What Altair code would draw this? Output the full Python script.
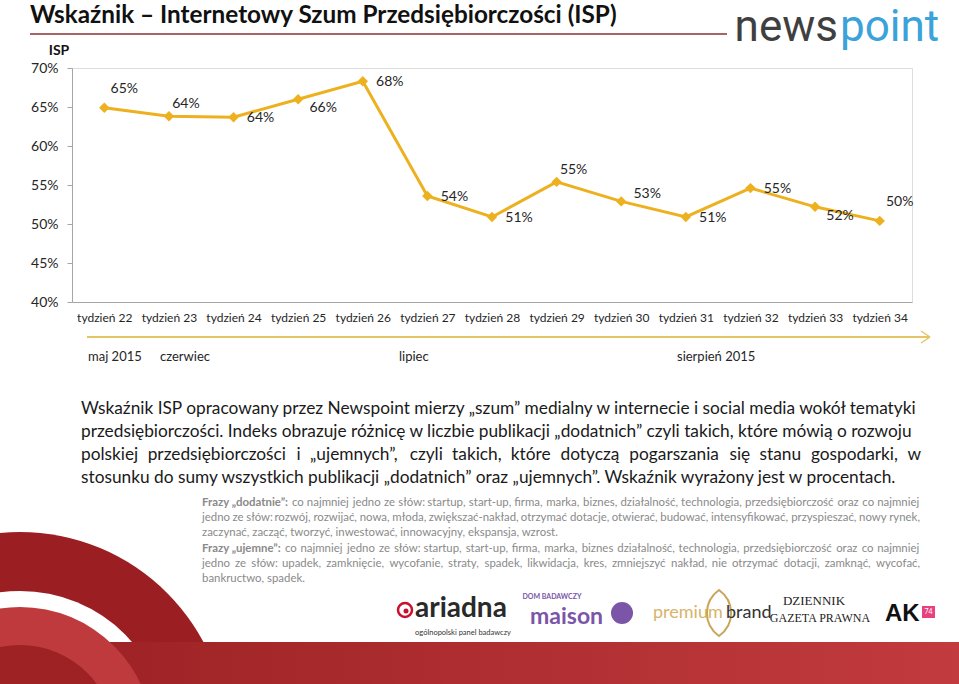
import altair as alt
import pandas as pd

# ---------------- data ----------------
weeks = ["tydzień 22", "tydzień 23", "tydzień 24", "tydzień 25", "tydzień 26",
         "tydzień 27", "tydzień 28", "tydzień 29", "tydzień 30", "tydzień 31",
         "tydzień 32", "tydzień 33", "tydzień 34"]
isp = [0.649, 0.638, 0.637, 0.660, 0.683, 0.536, 0.509, 0.554, 0.529, 0.509,
       0.546, 0.522, 0.504]
label_place = ["high", "above", "right", "lowright", "right", "right", "right",
               "above", "upright", "right", "right", "lowright", "high"]
y_ticks = [0.40, 0.45, 0.50, 0.55, 0.60, 0.65, 0.70]
months = ["maj 2015", "czerwiec", "lipiec", "sierpień 2015"]

title = "Wskaźnik – Internetowy Szum Przedsiębiorczości (ISP)"
para = [
    "Wskaźnik ISP opracowany przez Newspoint mierzy „szum” medialny w internecie i social media wokół tematyki",
    "przedsiębiorczości. Indeks obrazuje różnicę w liczbie publikacji „dodatnich” czyli takich, które mówią o rozwoju",
    "polskiej przedsiębiorczości i „ujemnych”, czyli takich, które dotyczą pogarszania się stanu gospodarki, w",
    "stosunku do sumy wszystkich publikacji „dodatnich” oraz „ujemnych”. Wskaźnik wyrażony jest w procentach.",
]
para_justify = [False, False, True, False]
note_bold = ["Frazy „dodatnie”:", "Frazy „ujemne”:"]
note = [
    "co najmniej jedno ze słów: startup, start-up, firma, marka, biznes, działalność, technologia, przedsiębiorczość oraz co najmniej",
    "jedno ze słów: rozwój, rozwijać, nowa, młoda, zwiększać-nakład, otrzymać dotacje, otwierać, budować, intensyfikować, przyspieszać, nowy rynek,",
    "zaczynać, zacząć, tworzyć, inwestować, innowacyjny, ekspansja, wzrost.",
    "co najmniej jedno ze słów: startup, start-up, firma, marka, biznes działalność, technologia, przedsiębiorczość oraz co najmniej",
    "jedno ze słów: upadek, zamknięcie, wycofanie, straty, spadek, likwidacja, kres, zmniejszyć nakład, nie otrzymać dotacji, zamknąć, wycofać,",
    "bankructwo, spadek.",
]
note_justify = [True, True, False, True, True, False]

# ---------------- layout helpers ----------------
OX, OY = 72, 68
W, H = 840, 234
GOLD = "#EDB120"
FONT = "Lato"
one = alt.Data(values=[{"a": 1}])

# approximate Lato advance widths (em) used to justify text lines
_EM = {"a": .514, "b": .566, "c": .464, "d": .566, "e": .530, "f": .327,
       "g": .504, "h": .566, "i": .241, "j": .241, "k": .503, "l": .241,
       "m": .853, "n": .566, "o": .570, "p": .560, "q": .566, "r": .374,
       "s": .432, "t": .358, "u": .566, "v": .515, "w": .782, "x": .494,
       "y": .515, "z": .459, " ": .193, ",": .213, ".": .213, "-": .339,
       ":": .213, "„": .355, "”": .355, "ł": .270}
_BASE = {"ą": "a", "ć": "c", "ę": "e", "ń": "n", "ó": "o", "ś": "s",
         "ź": "z", "ż": "z"}


def text_width(s, size):
    tot = 0.0
    for ch in s:
        c = _BASE.get(ch, ch)
        if c in _EM:
            tot += _EM[c]
        elif c.isupper():
            tot += 0.62
        elif c.isdigit():
            tot += 0.58
        else:
            tot += 0.5
    return tot * size


def X(px):
    return px - OX


def Y(py):
    return py - OY


def text(s, x, y, size, color="#262626", weight="normal", align="left",
         baseline="middle", font=FONT):
    return alt.Chart(one).mark_text(
        text=s, fontSize=size, color=color, fontWeight=weight, align=align,
        baseline=baseline, font=font
    ).encode(x=alt.value(X(x)), y=alt.value(Y(y)))


def justified_line(s, y, left, right, size, color, justify=True):
    if not justify:
        return [text(s, left, y, size, color=color)]
    words = s.split(" ")
    widths = [text_width(w, size) for w in words]
    gap = (right - left - sum(widths)) / (len(words) - 1)
    out, x = [], left
    for w, wd in zip(words, widths):
        out.append(text(w, x, y, size, color=color))
        x += wd + gap
    return out


def disc(cx, cy, r, color):
    return alt.Chart(one).mark_point(
        shape="circle", filled=True, size=(2 * r) ** 2, color=color,
        opacity=1, strokeWidth=0
    ).encode(x=alt.value(X(cx)), y=alt.value(Y(cy)))


def seg(x1, y1, x2, y2, color, width):
    return alt.Chart(one).mark_rule(color=color, strokeWidth=width).encode(
        x=alt.value(X(x1)), y=alt.value(Y(y1)),
        x2=alt.value(X(x2)), y2=alt.value(Y(y2)))


def rect(x1, y1, x2, y2, color):
    return alt.Chart(one).mark_rect(color=color).encode(
        x=alt.value(X(x1)), y=alt.value(Y(y1)),
        x2=alt.value(X(x2)), y2=alt.value(Y(y2)))


# ---------------- chart ----------------
df = pd.DataFrame({"week": weeks, "isp": isp, "place": label_place})

xenc = alt.X("week:N", sort=weeks, title=None,
             axis=alt.Axis(labelAngle=0, ticks=False, labelPadding=10,
                           labelFontSize=12, labelColor="#262626",
                           domainColor="#A6A6A6", labelFont=FONT, grid=False))
yenc = alt.Y("isp:Q", title=None,
             scale=alt.Scale(domain=[0.40, 0.70], nice=False, zero=False),
             axis=alt.Axis(values=y_ticks, format=".0%", labelFontSize=14,
                           labelColor="#262626", tickSize=5, tickColor="#A6A6A6",
                           domainColor="#A6A6A6", labelPadding=9,
                           labelFont=FONT, grid=False))

line = alt.Chart(df).mark_line(color=GOLD, strokeWidth=3).encode(x=xenc, y=yenc)
pts = alt.Chart(df).mark_point(shape="diamond", filled=True, size=110,
                               color=GOLD, opacity=1).encode(x=xenc, y=yenc)

offsets = {"high": (20, -19), "above": (17, -12), "upright": (26, -7),
           "right": (27, 1), "lowright": (25, 9)}
label_layers = []
for key, (dx, dy) in offsets.items():
    label_layers.append(
        alt.Chart(df).transform_filter(alt.datum.place == key).mark_text(
            dx=dx, dy=dy, fontSize=14, color="#262626", font=FONT
        ).encode(x=xenc, y=yenc, text=alt.Text("isp:Q", format=".0%"))
    )

layers = []

# decoration: red shapes at the bottom
layers.append(disc(20, 740, 208, "#9B1F22"))
layers.append(disc(20, 740, 149, "#FFFFFF"))
band = alt.Chart(one).mark_rect(
    color=alt.LinearGradient(
        gradient="linear",
        stops=[alt.GradientStop(color="#9A2023", offset=0),
               alt.GradientStop(color="#C23B3E", offset=1)],
        x1=0, x2=1, y1=0, y2=0)
).encode(x=alt.value(X(0)), x2=alt.value(X(959)),
         y=alt.value(Y(642)), y2=alt.value(Y(684)))
layers.append(band)
layers.append(disc(20, 740, 133, "#BF3A3D"))
layers.append(disc(20, 740, 95, "#9E2124"))

# title and header
layers.append(text(title, 30, 23, 24.3, color="#111111", weight="bold",
                   baseline="alphabetic"))
layers.append(seg(30, 34, 727, 34, "#A86464", 2))
layers.append(text("news", 838, 41, 44, color="#3F3F3F", align="right",
                   baseline="alphabetic", font="Roboto"))
layers.append(text("point", 840, 41, 44, color="#3BA3DA", align="left",
                   baseline="alphabetic", font="Roboto"))
layers.append(text("ISP", 59, 51, 14, color="#111111", weight="bold",
                   align="center"))

# timeline
layers.append(seg(87, 337, 930, 337, "#E3C565", 2))
layers.append(seg(921, 331, 930, 337, "#E3C565", 1.5))
layers.append(seg(921, 343, 930, 337, "#E3C565", 1.5))
month_x = [88, 160, 399, 677]
for m, mx in zip(months, month_x):
    layers.append(text(m, mx, 357, 13))

# paragraph
para_y = [409, 432, 455, 478]
for s, py, j in zip(para, para_y, para_justify):
    layers += justified_line(s, py, 81, 921, 17.3, "#1A1A1A", j)

# notes (justified)
NOTE_C = "#8A8A8A"
NOTE_S = 11.4
note_y = [503, 518, 533, 549, 564, 579]
note_left = [292, 202, 202, 285, 202, 202]
for s, nl, ny, j in zip(note, note_left, note_y, note_justify):
    layers += justified_line(s, ny, nl, 920, NOTE_S, NOTE_C, j)
layers.append(text(note_bold[0], 202, note_y[0], NOTE_S, color=NOTE_C,
                   weight="bold"))
layers.append(text(note_bold[1], 202, note_y[3], NOTE_S, color=NOTE_C,
                   weight="bold"))

# partner logos (approximated with text)
layers.append(alt.Chart(one).mark_point(shape="circle", filled=False, size=196,
                                        color="#C8102E", strokeWidth=2.5,
                                        opacity=1)
              .encode(x=alt.value(X(405)), y=alt.value(Y(610))))
layers.append(disc(406, 611, 2.5, "#C8102E"))
layers.append(text("ariadna", 415, 617, 28, color="#2A2A2A", weight="bold",
                   baseline="alphabetic"))
layers.append(text("ogólnopolski panel badawczy", 463, 633, 7.5,
                   color="#333333", align="center"))
layers.append(text("DOM BADAWCZY", 552, 597, 7, color="#7B55A7",
                   weight="bold", align="center"))
layers.append(text("maison", 530, 624, 23, color="#7B55A7", weight="bold",
                   baseline="alphabetic"))
layers.append(disc(622, 613, 11, "#7B55A7"))
layers.append(text("premium", 653, 618, 18, color="#D8B46A",
                   baseline="alphabetic"))
layers.append(alt.Chart(one).mark_point(
    shape="M0,-1C0.7,-0.5 0.7,0.5 0,1C-0.7,0.5 -0.7,-0.5 0,-1Z",
    filled=False, size=2116, color="#C9A55A", strokeWidth=2, opacity=1)
    .encode(x=alt.value(X(719)), y=alt.value(Y(613))))
layers.append(text("brand", 726, 618, 18, color="#333333",
                   baseline="alphabetic"))
layers.append(text("DZIENNIK", 814, 601, 13, color="#222222",
                   align="center", font="Liberation Serif"))
layers.append(text("GAZETA PRAWNA", 820, 618, 12, color="#222222",
                   align="center", font="Liberation Serif"))
layers.append(text("AK", 885, 621, 24, color="#111111", weight="bold",
                   baseline="alphabetic", font="Liberation Sans"))
layers.append(rect(922, 606, 935, 618, "#E8417F"))
layers.append(text("74", 928.5, 612, 7, color="#FFFFFF", align="center"))

chart = alt.layer(line, pts, *label_layers, *layers).properties(
    width=W, height=H,
    autosize=alt.AutoSizeParams(type="none"),
    padding={"left": OX, "top": OY, "right": 959 - OX - W,
             "bottom": 684 - OY - H},
    background="white",
).configure_view(stroke=None).configure(font=FONT)

chart.save("out.html", embed_options={"renderer": "svg", "actions": False})
